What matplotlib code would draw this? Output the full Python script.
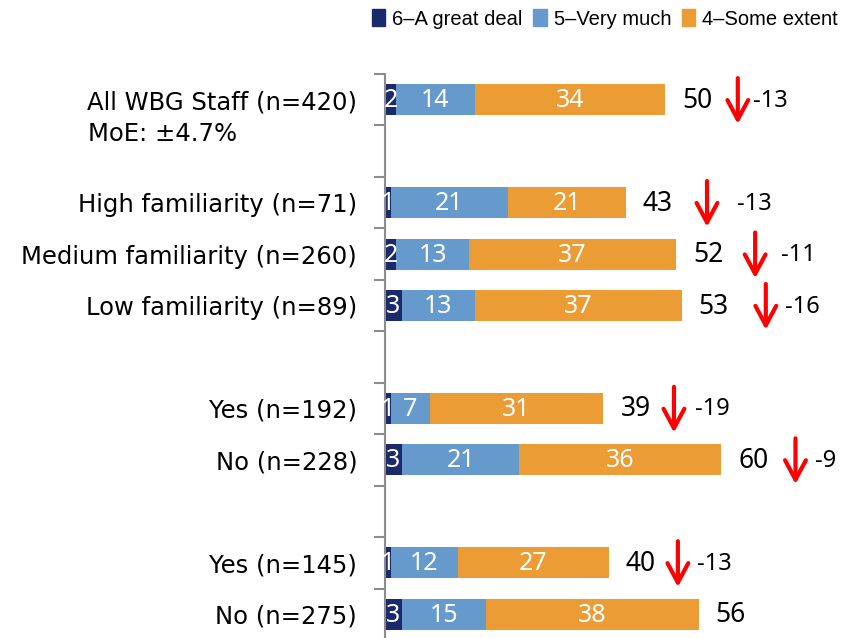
import matplotlib.pyplot as plt
from matplotlib.patches import Patch

# data
labels = ["All WBG Staff (n=420)", "High familiarity (n=71)", "Medium familiarity (n=260)",
          "Low familiarity (n=89)", "Yes (n=192)", "No (n=228)", "Yes (n=145)", "No (n=275)"]
great_deal = [2, 1, 2, 3, 1, 3, 1, 3]
very_much = [14, 21, 13, 13, 7, 21, 12, 15]
some_extent = [34, 21, 37, 37, 31, 36, 27, 38]
totals = [50, 43, 52, 53, 39, 60, 40, 56]
changes = [-13, -13, -11, -16, -19, -9, -13, None]
series_names = ["6\u2013A great deal", "5\u2013Very much", "4\u2013Some extent"]

# layout (slot positions, arrow offsets in data units, change-label offsets in px)
pos = [0, 2, 3, 4, 6, 7, 9, 10]
arrow_dx = [13.0, 14.5, 14.1, 15.0, 12.6, 13.3, 12.3, 0]
change_dx = [15, 30, 26, 19, 21, 20, 19, 0]

navy = "#1b2a6b"
blue = "#6699cc"
orange = "#eb9c35"
num_font = ["Noto Sans", "DejaVu Sans"]
lab_font = ["DejaVu Sans"]
leg_font = ["Liberation Sans", "DejaVu Sans"]

W, H = 856, 638
fig = plt.figure(figsize=(W / 100, H / 100), dpi=100)
ax = fig.add_axes([385 / W, -2 / H, 471 / W, 566 / H])
px = 5.6  # pixels per data unit
ax.set_xlim(0, 471 / px)
ax.set_ylim(10.5, -0.5)

left = [0] * len(pos)
for vals, col in zip([great_deal, very_much, some_extent], [navy, blue, orange]):
    ax.barh(pos, vals, left=left, height=0.6, color=col, edgecolor="none")
    for y, l, v in zip(pos, left, vals):
        ax.text(l + v / 2, y + 0.02, str(v), ha="center", va="center", color="white",
                fontsize=18, family=num_font)
    left = [a + b for a, b in zip(left, vals)]

for i, y in enumerate(pos):
    ax.text(left[i] + 17 / px, y + 0.02, str(totals[i]), ha="left", va="center",
            fontsize=19, family=num_font, color="black")
    if changes[i] is not None:
        ax_x = totals[i] + arrow_dx[i]
        ax.annotate("", xy=(ax_x, y + 0.47), xytext=(ax_x, y - 0.42),
                    arrowprops=dict(arrowstyle="->,head_length=1.4,head_width=0.75",
                                    color="red", lw=3, shrinkA=0, shrinkB=0))
        ax.text(ax_x + change_dx[i] / px, y + 0.02, str(changes[i]), ha="left", va="center",
                fontsize=17, family=num_font, color="black")

# axis styling
for s in ["top", "right", "bottom"]:
    ax.spines[s].set_visible(False)
ax.spines["left"].set_color("#8c8c8c")
ax.spines["left"].set_linewidth(1.5)
ax.set_xticks([])
ax.set_yticks([p - 0.5 for p in range(11)] + [10.5])
ax.set_yticklabels([])
ax.tick_params(axis="y", length=8, width=1.5, color="#8c8c8c", direction="out")
ax.set_yticks(pos, minor=True)
ax.set_yticklabels(labels, minor=True, fontsize=17.5, family=lab_font)
ax.tick_params(axis="y", which="minor", length=0, pad=20)

fig.text(88 / W, 1 - 134 / H, "MoE: \u00b14.7%", ha="left", va="center",
         fontsize=17.5, family=lab_font)

handles = [Patch(color=c) for c in [navy, blue, orange]]
fig.legend(handles, series_names, loc="center", bbox_to_anchor=(605 / W, 1 - 19 / H),
           ncol=3, frameon=False, handlelength=0.65, handleheight=0.85,
           handletextpad=0.35, columnspacing=0.55, prop={"family": leg_font, "size": 14.5})

fig.savefig("out.png", dpi=100)
